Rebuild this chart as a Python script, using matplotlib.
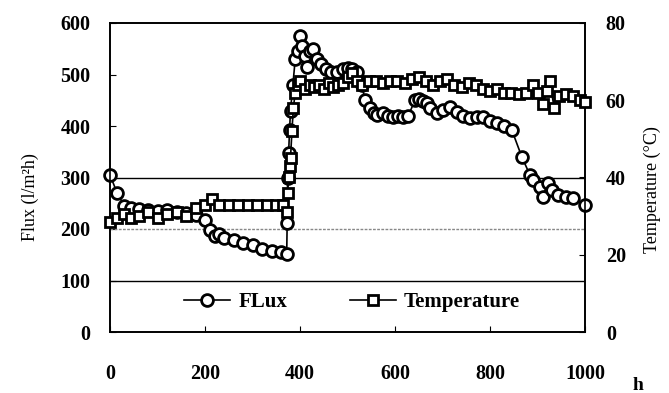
import matplotlib.pyplot as plt

plt.rcParams['font.family'] = 'Liberation Serif'

# flux (l/m2h) vs time (h)
flux_t = [0, 15, 30, 45, 60, 80, 100, 120, 140, 160, 180, 200, 210, 220, 230, 240,
          260, 280, 300, 320, 340, 360, 372, 373, 374, 376, 378, 380, 385, 390, 395,
          400, 405, 410, 415, 420, 427, 435, 445, 455, 465, 478, 490, 500, 510, 520,
          530, 537, 547, 555, 562, 575, 585, 596, 607, 617, 628, 642, 650, 659, 667,
          674, 688, 701, 716, 730, 744, 758, 772, 785, 800, 815, 830, 846, 867, 884,
          891, 905, 912, 922, 930, 943, 960, 975, 1000]
flux = [305, 270, 245, 240, 238, 236, 235, 237, 233, 231, 228, 218, 198, 186, 190, 182,
        178, 172, 168, 162, 158, 156, 152, 212, 300, 347, 392, 430, 480, 530, 545,
        575, 555, 535, 515, 545, 550, 530, 520, 510, 505, 505, 510, 512, 510, 505,
        480, 450, 435, 425, 421, 425, 420, 417, 420, 417, 420, 450, 452, 448, 445,
        435, 425, 431, 437, 427, 420, 415, 418, 417, 410, 406, 400, 392, 340, 305,
        295, 282, 262, 289, 275, 266, 262, 260, 247]

# temperature (C) vs time (h)
temp_t = [0, 15, 30, 45, 60, 80, 100, 120, 140, 160, 180, 200, 215, 230, 250, 270,
          290, 310, 330, 350, 365, 372, 374, 376, 378, 380, 383, 386, 390, 395, 400,
          410, 420, 430, 440, 450, 460, 470, 480, 490, 500, 510, 520, 530, 545, 560,
          575, 590, 605, 620, 635, 650, 665, 680, 695, 710, 725, 740, 755, 770, 785,
          800, 815, 830, 845, 860, 875, 890, 900, 912, 920, 926, 935, 945, 960, 975,
          990, 1000]
temp = [28.5, 29.5, 30.5, 29.5, 30, 31, 29.5, 30.5, 31, 30, 32, 33, 34.5, 33, 33, 33,
        33, 33, 33, 33, 33, 31, 36, 40, 43, 45, 52, 58, 62, 64, 65,
        63, 64, 63.5, 64, 63, 64.5, 63.5, 64, 64.5, 66, 67, 65, 64, 65, 65,
        64.5, 65, 65, 64.5, 65.5, 66, 65, 64, 65, 65.5, 64, 63.5, 64.5, 64, 63,
        62.5, 63, 62, 62, 61.5, 62, 64, 62, 59, 62.5, 65, 58, 61, 61.5, 61,
        60, 59.5]

fig = plt.figure(figsize=(6.69, 3.93), dpi=100)
ax = fig.add_axes([110/669, 1-332/393, 475/669, 309/393])
ax2 = ax.twinx()

ax.axhline(100, color='black', lw=1)
ax.axhline(200, color='#888888', lw=1, ls=(0, (2, 1)))
ax.axhline(300, color='black', lw=1)

l1, = ax.plot(flux_t, flux, color='black', lw=1.2, marker='o', ms=8.5,
              mfc='white', mec='black', mew=2, label='FLux', zorder=3, clip_on=False)
l2, = ax2.plot(temp_t, temp, color='black', lw=1.2, marker='s', ms=7,
               mfc='white', mec='black', mew=2, label='Temperature', zorder=3, clip_on=False)

ax.set_xlim(0, 1000)
ax.set_ylim(0, 600)
ax2.set_ylim(0, 80)
ax.set_xticks(range(0, 1001, 200))
ax.set_yticks(range(0, 601, 100))
ax2.set_yticks(range(0, 81, 20))

ax.tick_params(axis='both', direction='in', length=4, labelsize=14.5)
ax.tick_params(axis='x', pad=23)
ax.tick_params(axis='y', pad=14)
ax2.tick_params(axis='y', direction='in', length=4, labelsize=14.5, pad=15)
for lab in ax.get_xticklabels() + ax.get_yticklabels() + ax2.get_yticklabels():
    lab.set_fontweight('bold')
for a in (ax, ax2):
    for s in a.spines.values():
        s.set_linewidth(1.2)

ax.legend([l1, l2], ['FLux', 'Temperature'], loc='center', bbox_to_anchor=(0.51, 0.097),
          ncol=2, frameon=False, handlelength=2.2, columnspacing=3,
          handletextpad=0.4, prop={'weight': 'bold', 'size': 15})

fig.text(30/669, 1-197/393, 'Flux (l/m²h)', rotation=90, ha='center', va='center', fontsize=13)
fig.text(652/669, 1-190/393, 'Temperature (°C)', rotation=90, ha='center', va='center', fontsize=13)
fig.text(638/669, 1-385/393, 'h', ha='center', va='center', fontsize=14, fontweight='bold')

fig.savefig('out.png', dpi=100)
